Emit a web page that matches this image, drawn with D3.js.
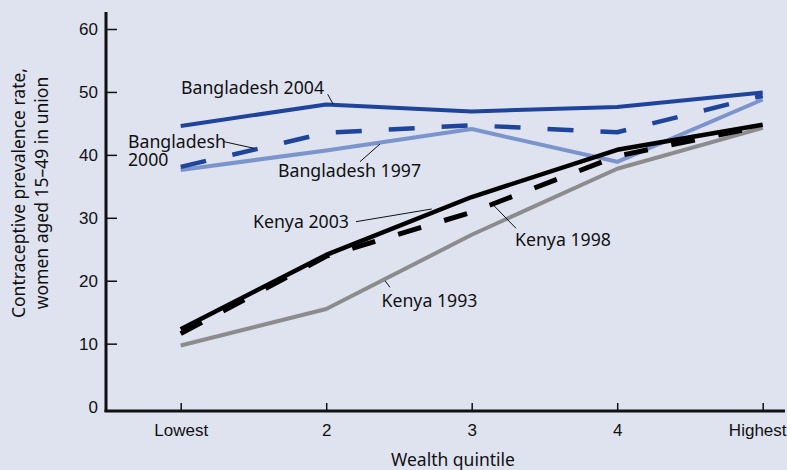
<!DOCTYPE html>
<html>
<head>
<meta charset="utf-8">
<script src="https://cdn.jsdelivr.net/npm/d3@7"></script>
<style>
  body { margin: 0; background: #dfe3f0; }
  svg { display: block; font-family: "Noto Sans", "Liberation Sans", Arial, sans-serif; }
  .tick text { font-family: "Liberation Sans", Arial, sans-serif; font-size: 17px; fill: #111; }
  .lbl { font-size: 17.7px; fill: #111; }
  .ttl { font-size: 17.5px; fill: #111; }
</style>
</head>
<body>
<div id="chart"></div>
<script>
// wealth quintiles
const quintiles = ['Lowest', '2', '3', '4', 'Highest'];
const yTicks = [0, 10, 20, 30, 40, 50, 60];

// contraceptive prevalence per survey
const bangladesh2004 = [44.6, 48.0, 46.9, 47.6, 49.9];
const bangladesh2000 = [38.1, 43.5, 44.7, 43.6, 49.4];
const bangladesh1997 = [37.6, 40.7, 44.1, 38.9, 48.8];
const kenya2003 = [12.3, 24.1, 33.3, 40.8, 44.8];
const kenya1998 = [11.6, 23.9, 30.9, 39.8, 44.6];
const kenya1993 = [9.7, 15.5, 27.3, 37.8, 44.3];

let series = [
  { name: 'Kenya 1993', values: kenya1993, color: '#8c8c8c', dash: null, w: 4 },
  { name: 'Bangladesh 1997', values: bangladesh1997, color: '#7b95cc', dash: null, w: 4 },
  { name: 'Bangladesh 2000', values: bangladesh2000, color: '#1f449c', dash: '26,27', w: 4.5 },
  { name: 'Bangladesh 2004', values: bangladesh2004, color: '#1f449c', dash: null, w: 4 },
  { name: 'Kenya 1998', values: kenya1998, color: '#000', dash: '24,24', w: 5 },
  { name: 'Kenya 2003', values: kenya2003, color: '#000', dash: null, w: 4.5 }
];

let width = 787, height = 470;
let mLeft = 106, mRight = 785, mTop = 29, mBottom = 406.6;

let svg = d3.select('#chart').append('svg')
  .attr('width', width)
  .attr('height', height);

svg.append('rect').attr('width', width).attr('height', height).attr('fill', '#dfe3f0');

let x = d3.scalePoint()
  .domain(quintiles)
  .range([180.7, 762.7]);

let y = d3.scaleLinear()
  .domain([0, 60])
  .range([mBottom, mTop]);

// y axis, ticks pointing into the plot
let yAxis = svg.append('g')
  .attr('transform', 'translate(' + mLeft + ',0)')
  .call(d3.axisRight(y).tickValues(yTicks).tickSize(11).tickFormat(d3.format('d')));
yAxis.select('.domain').remove();
yAxis.selectAll('.tick line').attr('stroke', '#111').attr('stroke-width', 1.5)
  .filter(d => d === 0).remove();
yAxis.selectAll('.tick text').attr('x', -8).attr('text-anchor', 'end').attr('dy', '0.35em');
svg.append('line')
  .attr('x1', mLeft).attr('x2', mLeft)
  .attr('y1', 12).attr('y2', 412)
  .attr('stroke', '#111').attr('stroke-width', 3);

// x axis, ticks pointing up
let xAxis = svg.append('g')
  .attr('transform', 'translate(0,411)')
  .call(d3.axisTop(x).tickSize(8).tickFormat(d => d));
xAxis.select('.domain').remove();
xAxis.selectAll('.tick line').attr('stroke', '#111').attr('stroke-width', 1.5);
xAxis.selectAll('.tick text').attr('y', 25).attr('dy', 0);
// last label sits flush with the right edge
xAxis.selectAll('.tick text').filter(d => d === 'Highest')
  .attr('text-anchor', 'end').attr('x', mRight - x('Highest') + 1);
svg.append('line')
  .attr('x1', mLeft - 1.5).attr('x2', mRight)
  .attr('y1', 411).attr('y2', 411)
  .attr('stroke', '#111').attr('stroke-width', 3);

svg.append('text').attr('class', 'ttl')
  .attr('x', 453).attr('y', 466)
  .attr('text-anchor', 'middle')
  .text('Wealth quintile');

let yTitle = svg.append('text').attr('class', 'ttl')
  .attr('transform', 'translate(25,193) rotate(-90)')
  .attr('text-anchor', 'middle');
yTitle.append('tspan').attr('x', 0).attr('dy', 0).text('Contraceptive prevalence rate,');
yTitle.append('tspan').attr('x', 0).attr('dy', 23).text('women aged 15–49 in union');

let line = d3.line()
  .x((d, i) => x(quintiles[i]))
  .y(d => y(d));

svg.selectAll('.series')
  .data(series)
  .enter().append('path')
  .attr('class', 'series')
  .attr('d', d => line(d.values))
  .attr('fill', 'none')
  .attr('stroke', d => d.color)
  .attr('stroke-width', d => d.w)
  .attr('stroke-dasharray', d => d.dash)
  .attr('stroke-linejoin', 'round');

// labels with leader lines
let labels = [
  { lines: ['Bangladesh 2004'], x: 181, y: 94, l: [327.7, 94.3, 333.3, 104.3] },
  { lines: ['Bangladesh', '2000'], x: 128, y: 147.5, l: [224, 141.7, 254, 148.3] },
  { lines: ['Bangladesh 1997'], x: 278, y: 177, l: [360, 161.7, 380, 144] },
  { lines: ['Kenya 2003'], x: 253, y: 228, l: [356, 221.7, 431.7, 209] },
  { lines: ['Kenya 1998'], x: 515, y: 246, l: [493.3, 205, 516, 228.3] },
  { lines: ['Kenya 1993'], x: 381.5, y: 306.5, l: [385, 280.7, 390, 287.3] }
];

labels.forEach(d => {
  let t = svg.append('text').attr('class', 'lbl').attr('x', d.x).attr('y', d.y);
  d.lines.forEach((s, i) => {
    t.append('tspan').attr('x', d.x).attr('dy', i === 0 ? 0 : 18.5).text(s);
  });
  svg.append('line')
    .attr('x1', d.l[0]).attr('y1', d.l[1])
    .attr('x2', d.l[2]).attr('y2', d.l[3])
    .attr('stroke', '#111').attr('stroke-width', 1);
});
</script>
</body>
</html>
